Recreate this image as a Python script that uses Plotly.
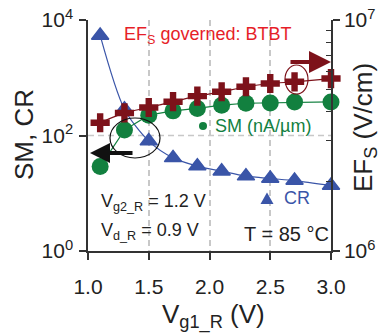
import plotly.graph_objects as go

# ---------------- data ----------------
vg1 = [1.1, 1.3, 1.5, 1.7, 1.9, 2.1, 2.3, 2.5, 2.7, 3.0]
cr = [5400, 285, 80, 41, 29.5, 24, 19.8, 18.0, 16.6, 13.6]
sm = [29, 124, 225, 267, 294, 335, 362, 367, 382, 382]
efs = [3.59e6, 3.96e6, 4.18e6, 4.43e6, 4.68e6, 4.89e6, 5.14e6, 5.31e6, 5.40e6, 5.58e6]

x_ticks = [1.0, 1.5, 2.0, 2.5, 3.0]
x_ticklabels = ["1.0", "1.5", "2.0", "2.5", "3.0"]
y_ticks = [1, 100, 10000]
y_ticklabels = ["10<sup>0</sup>", "10<sup>2</sup>", "10<sup>4</sup>"]
y2_ticks = [1e6, 1e7]
y2_ticklabels = ["10<sup>6</sup>", "10<sup>7</sup>"]
y2_minor = [2e6, 3e6, 4e6, 5e6, 6e6, 7e6, 8e6, 9e6]

# ---------------- style ----------------
W, H = 380, 335
ML, MR, MT, MB = 88, 49, 20, 84
FONT = "Liberation Sans, Arial, sans-serif"
BLUE = "#3a55a8"
GREEN = "#12803f"
DRED = "#7d121a"
RED = "#e61e28"
AX = "#333333"
GRID = "#c8c8c8"
TICKFONT = dict(size=21, color="#222")


def px(x):
    return (x - ML) / (W - ML - MR)


def py(y):
    return (H - MB - y) / (H - MT - MB)


fig = go.Figure()

fig.add_trace(go.Scatter(
    x=vg1, y=cr, mode="lines+markers", name="CR",
    line=dict(color=BLUE, width=1.2, shape="spline", smoothing=0.8),
    marker=dict(symbol="triangle-up", size=15, color=BLUE,
                line=dict(color=BLUE, width=1.5)),
    cliponaxis=False, yaxis="y"))

fig.add_trace(go.Scatter(
    x=vg1, y=sm, mode="lines+markers", name="SM",
    line=dict(color=GREEN, width=1.2),
    marker=dict(symbol="circle", size=17, color=GREEN),
    cliponaxis=False, yaxis="y"))

fig.add_trace(go.Scatter(
    x=vg1, y=efs, mode="lines+markers", name="EFs",
    line=dict(color=DRED, width=1.2, shape="spline", smoothing=0.6),
    marker=dict(symbol="cross", size=16, color=DRED),
    cliponaxis=False, yaxis="y2"))

annotations = [
    dict(text="SM, CR", x=px(24), y=py(135), textangle=-90,
         font=dict(size=26, color="#222")),
    dict(text="EF<sub>S</sub> (V/cm)", x=px(364), y=py(128), textangle=-90,
         font=dict(size=26, color="#222")),
    dict(text="V<sub>g1_R</sub> (V)", x=px(213), y=py(316),
         font=dict(size=26, color="#222")),
    dict(text="EF<sub>S</sub> governed: BTBT", x=px(122), y=py(35),
         xanchor="left", font=dict(size=18, color=RED)),
    dict(text="SM (nA/µm)", x=px(213), y=py(126), xanchor="left",
         font=dict(size=18, color=GREEN)),
    dict(text="CR", x=px(282), y=py(198), xanchor="left",
         font=dict(size=18, color=BLUE)),
    dict(text="V<sub>g2_R</sub> = 1.2 V", x=px(99), y=py(203), xanchor="left",
         font=dict(size=18, color="#222")),
    dict(text="V<sub>d_R</sub> = 0.9 V", x=px(99), y=py(231), xanchor="left",
         font=dict(size=18, color="#222")),
    dict(text="T = 85 °C", x=px(331), y=py(234), xanchor="right",
         font=dict(size=20, color="#222")),
]
for a in annotations:
    a.setdefault("xref", "paper")
    a.setdefault("yref", "paper")
    a.setdefault("showarrow", False)
    a.setdefault("xanchor", "center")
    a.setdefault("yanchor", "middle")

# arrows
annotations.append(dict(xref="paper", yref="paper", x=px(331), y=py(62),
                        ax=-42, ay=0, text="", showarrow=True, arrowhead=2,
                        arrowwidth=4, arrowsize=1.1, arrowcolor=DRED))
annotations.append(dict(xref="paper", yref="paper", x=px(90), y=py(153),
                        ax=44, ay=0, text="", showarrow=True, arrowhead=2,
                        arrowwidth=4, arrowsize=1.0, arrowcolor="#111"))

tri = [(260.5, 204), (273.5, 204), (267, 192.5)]
tri_path = "M {} {} L {} {} L {} {} Z".format(*[v for p in tri for v in (px(p[0]), py(p[1]))])

shapes = [
    dict(type="line", xref="paper", yref="paper", x0=0, x1=1, y0=0.5, y1=0.5,
         line=dict(color=GRID, width=1.5, dash="6px,4px"), layer="below"),
    dict(type="circle", xref="paper", yref="paper",
         x0=px(110), x1=px(160), y0=py(158), y1=py(118),
         line=dict(color="#111", width=1.2)),
    dict(type="circle", xref="paper", yref="paper",
         x0=px(285), x1=px(308), y0=py(94), y1=py(65),
         line=dict(color=DRED, width=1.2)),
    dict(type="circle", xref="paper", yref="paper",
         x0=px(199), x1=px(207), y0=py(130), y1=py(122),
         fillcolor=GREEN, line=dict(color=GREEN, width=0)),
    dict(type="path", xref="paper", yref="paper", path=tri_path,
         fillcolor=BLUE, line=dict(color=BLUE, width=0)),
]

fig.update_layout(
    width=W, height=H,
    margin=dict(l=ML, r=MR, t=MT, b=MB, pad=0, autoexpand=False),
    paper_bgcolor="white", plot_bgcolor="white",
    showlegend=False,
    font=dict(family=FONT, size=20, color="#222"),
    annotations=annotations, shapes=shapes,
    xaxis=dict(range=[1.0, 3.0], tickvals=x_ticks, ticktext=x_ticklabels,
               ticks="outside", ticklen=7, tickwidth=1.5, tickcolor=AX,
               ticklabelstandoff=9,
               showline=True, linecolor=AX, linewidth=1.5, mirror=False,
               showgrid=True, gridcolor=GRID, gridwidth=1.5, griddash="6px,4px",
               zeroline=False, automargin=False, tickfont=TICKFONT),
    yaxis=dict(type="log", range=[0, 4], tickvals=y_ticks, ticktext=y_ticklabels,
               ticks="outside", ticklen=7, tickwidth=1.5, tickcolor=AX,
               ticklabelstandoff=2,
               showline=True, linecolor=AX, linewidth=1.5, automargin=False,
               showgrid=False, zeroline=False, tickfont=TICKFONT),
    yaxis2=dict(type="log", range=[6, 7], overlaying="y", side="right", anchor="x",
                tickvals=y2_ticks, ticktext=y2_ticklabels,
                ticks="outside", ticklen=7, tickwidth=1.5, tickcolor=AX,
                minor=dict(tickvals=y2_minor, ticks="inside", ticklen=5,
                           tickwidth=1.2, tickcolor=AX, showgrid=False),
                showline=True, linecolor=AX, linewidth=1.5, automargin=False,
                showgrid=False, zeroline=False, tickfont=TICKFONT),
)

fig.write_html("out.html", config={"displayModeBar": False},
               post_script="document.body.style.margin='0';document.body.style.padding='0';")
